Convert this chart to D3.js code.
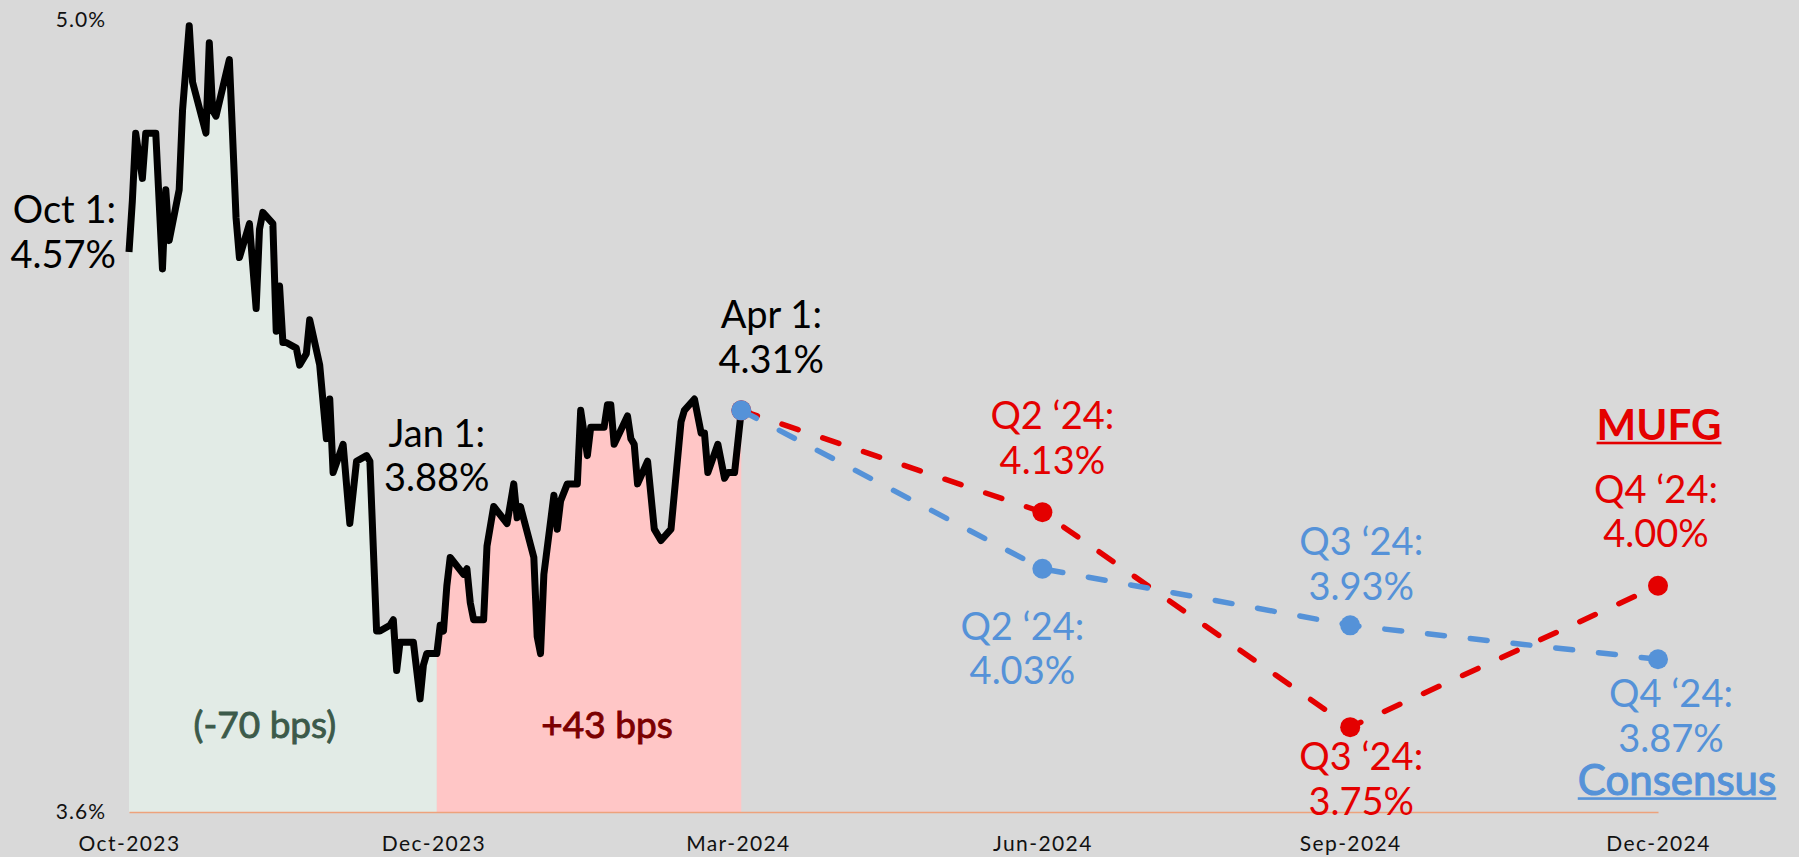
<!DOCTYPE html>
<html><head><meta charset="utf-8">
<script src="https://cdn.jsdelivr.net/npm/d3@7"></script>
<style>
html,body{margin:0;padding:0;background:#d9d9d9;overflow:hidden;}
svg{display:block;font-family:Lato,"Noto Sans",sans-serif;}
</style></head><body>
<svg id="chart" width="1799" height="857"></svg>
<script>
// ---------- DATA ----------
const histDates = [
"2023-10-01","2023-10-02","2023-10-03","2023-10-05","2023-10-06","2023-10-09","2023-10-11","2023-10-12","2023-10-13",
"2023-10-16","2023-10-17","2023-10-19","2023-10-20","2023-10-24","2023-10-25","2023-10-26","2023-10-27","2023-10-31",
"2023-11-02","2023-11-03","2023-11-06","2023-11-08","2023-11-09","2023-11-10","2023-11-13","2023-11-14","2023-11-15",
"2023-11-16","2023-11-17","2023-11-20","2023-11-21","2023-11-23","2023-11-24","2023-11-27","2023-11-29","2023-11-30",
"2023-12-01","2023-12-04","2023-12-06","2023-12-08","2023-12-11","2023-12-12","2023-12-14","2023-12-15","2023-12-18",
"2023-12-19","2023-12-20","2023-12-21","2023-12-25","2023-12-27","2023-12-28","2023-12-29","2024-01-01",
"2024-01-02","2024-01-03","2024-01-04","2024-01-05","2024-01-09","2024-01-10","2024-01-11","2024-01-12","2024-01-15",
"2024-01-16","2024-01-18","2024-01-22","2024-01-24","2024-01-25","2024-01-26","2024-01-30","2024-01-31","2024-02-01",
"2024-02-02","2024-02-05","2024-02-06","2024-02-07","2024-02-09","2024-02-12","2024-02-13","2024-02-15","2024-02-16",
"2024-02-20","2024-02-21","2024-02-22","2024-02-23","2024-02-27","2024-02-28","2024-02-29","2024-03-01","2024-03-04",
"2024-03-06","2024-03-08","2024-03-11","2024-03-14","2024-03-15","2024-03-18","2024-03-20","2024-03-21","2024-03-22",
"2024-03-25","2024-03-27","2024-03-28","2024-03-30","2024-04-01"
];
const histValues = [
4.59,4.68,4.80,4.72,4.80,4.80,4.56,4.70,4.61,
4.70,4.84,4.99,4.89,4.80,4.96,4.84,4.83,4.93,
4.65,4.58,4.64,4.49,4.63,4.66,4.64,4.45,4.53,
4.43,4.43,4.42,4.39,4.41,4.47,4.39,4.26,4.33,
4.20,4.25,4.11,4.22,4.23,4.22,3.92,3.92,3.93,
3.94,3.85,3.90,3.90,3.80,3.86,3.88,3.88,
3.93,3.92,4.00,4.05,4.02,4.03,3.97,3.94,3.94,
4.07,4.14,4.11,4.18,4.12,4.14,4.05,3.91,3.88,
4.02,4.16,4.10,4.15,4.18,4.18,4.31,4.23,4.28,
4.28,4.32,4.32,4.25,4.30,4.26,4.25,4.18,4.22,
4.10,4.08,4.10,4.29,4.31,4.33,4.27,4.27,4.20,
4.25,4.19,4.20,4.20,4.31
];
const splitDate = "2024-01-01";
const forecastDates = ["2024-04-01","2024-06-30","2024-09-30","2024-12-31"];
const mufgValues = [4.31, 4.13, 3.75, 4.00];
const consensusValues = [4.31, 4.03, 3.93, 3.87];
const xTickDates = ["2023-10-01","2023-12-31","2024-03-31","2024-06-30","2024-09-30","2024-12-31"];
const xTickLabels = ["Oct-2023","Dec-2023","Mar-2024","Jun-2024","Sep-2024","Dec-2024"];
const yTickValues = [3.6, 5.0];
const yTickLabels = ["3.6%","5.0%"];

// ---------- CHART ----------
const RED = "#e40000", BLUE = "#5592d8";
const svg = d3.select("#chart");
const parse = d3.utcParse("%Y-%m-%d");
const x = d3.scaleUtc().domain([parse("2023-10-01"), parse("2024-12-31")]).range([129, 1658]);
const y = d3.scaleLinear().domain([3.6, 5.0]).range([812, 20]);

svg.append("rect").attr("width",1799).attr("height",857).attr("fill","#d9d9d9");

const hist = histDates.map((d,i)=>({date:parse(d), v:histValues[i]}));
const split = parse(splitDate);
const area = d3.area().x(d=>x(d.date)).y0(y(yTickValues[0])).y1(d=>y(d.v));
svg.append("path").datum(hist.filter(d=>d.date<=split)).attr("d",area).attr("fill","#e2ebe6");
svg.append("path").datum(hist.filter(d=>d.date>=split)).attr("d",area).attr("fill","#ffc6c6");

// x axis
const xAxis = d3.axisBottom(x)
  .tickValues(xTickDates.map(parse))
  .tickFormat((d,i)=>xTickLabels[i])
  .tickSize(0).tickSizeOuter(0);
const gx = svg.append("g").attr("transform",`translate(0,${y(yTickValues[0])})`).call(xAxis);
gx.select(".domain").attr("stroke","#eda27c").attr("stroke-width",1.6);
gx.selectAll("text").attr("y",39).attr("dy",0).attr("fill","#111")
  .style("font-size","21px").style("letter-spacing","1.4px").style("font-family","Lato");

// y axis
const yAxis = d3.axisLeft(y).tickValues(yTickValues).tickFormat((d,i)=>yTickLabels[i]).tickSize(0).tickPadding(23);
const gy = svg.append("g").attr("transform",`translate(${x.range()[0]},0)`).call(yAxis);
gy.select(".domain").remove();
gy.selectAll("text").attr("fill","#111").style("font-size","21px").style("letter-spacing","1px").style("font-family","Lato");

// history line
const line = d3.line().x(d=>x(d.date)).y(d=>y(d.v));
svg.append("path").datum(hist).attr("d",line).attr("fill","none")
  .attr("stroke","#000").attr("stroke-width",7).attr("stroke-linejoin","round");

// forecasts
const mufg = forecastDates.map((d,i)=>({date:parse(d), v:mufgValues[i]}));
const cons = forecastDates.map((d,i)=>({date:parse(d), v:consensusValues[i]}));
function forecast(data,color){
  svg.append("path").datum(data).attr("d",line).attr("fill","none")
    .attr("stroke",color).attr("stroke-width",5.5).attr("stroke-dasharray","17 26")
    .attr("stroke-linecap","round");
  svg.selectAll(null).data(data).enter().append("circle")
    .attr("cx",d=>x(d.date)).attr("cy",d=>y(d.v)).attr("r",10).attr("fill",color);
}
forecast(mufg,RED);
forecast(cons,BLUE);

// annotations
function label(lines, px, py, dy, color, opts={}){
  const t = svg.append("text").attr("x",px).attr("y",py+dy)
    .attr("text-anchor",opts.anchor||"middle").attr("fill",color)
    .style("font-size",(opts.size||38)+"px").style("font-weight",opts.weight||400);
  if(opts.stroke) t.attr("stroke",color).attr("stroke-width",opts.stroke);
  lines.forEach((s,i)=>t.append("tspan").attr("x",px).attr("dy",i?44.5:0).text(s));
  if(opts.underline){
    const b = t.node().getBBox();
    svg.append("rect").attr("x",b.x).attr("y",py+dy+2).attr("width",b.width).attr("height",2.6).attr("fill",color);
  }
  return t;
}
const P = (arr,i)=>[x(arr[i].date), y(arr[i].v)];
const h0 = hist[0], hJ = hist.find(d=>+d.date===+split), hE = hist[hist.length-1];
label(["Oct 1:","4.57%"], x(h0.date)-13, y(4.57), -40, "#000", {anchor:"end"});
label(["Jan 1:","3.88%"], x(hJ.date), y(hJ.v), -207, "#000");
label(["Apr 1:","4.31%"], x(hE.date)+30, y(hE.v), -82, "#000");

let [px,py] = P(mufg,1); label(["Q2 \u201824:","4.13%"], px+10, py, -83, RED);
[px,py] = P(cons,1); label(["Q2 \u201824:","4.03%"], px-20, py, 71, BLUE);
[px,py] = P(cons,2); label(["Q3 \u201824:","3.93%"], px+11, py, -70, BLUE);
[px,py] = P(mufg,2); label(["Q3 \u201824:","3.75%"], px+11, py, 43, RED);
[px,py] = P(mufg,3); label(["Q4 \u201824:","4.00%"], px-2, py, -83, RED);
label(["MUFG"], px+1, py, -146, RED, {size:42, weight:700, underline:true});
[px,py] = P(cons,3); label(["Q4 \u201824:","3.87%"], px+13, py, 48, BLUE);
label(["Consensus"], px+19, py, 136, BLUE, {size:42, weight:400, stroke:1.1, underline:true});

const base = y(yTickValues[0]);
label(["(-70 bps)"], (x(h0.date)+x(hJ.date))/2-18, base, -74, "#3c5a4a", {size:37, weight:400, stroke:0.9});
label(["+43 bps"], (x(hJ.date)+x(hE.date))/2+18, base, -74, "#7c0000", {size:37, weight:400, stroke:0.9});
</script>
</body></html>
